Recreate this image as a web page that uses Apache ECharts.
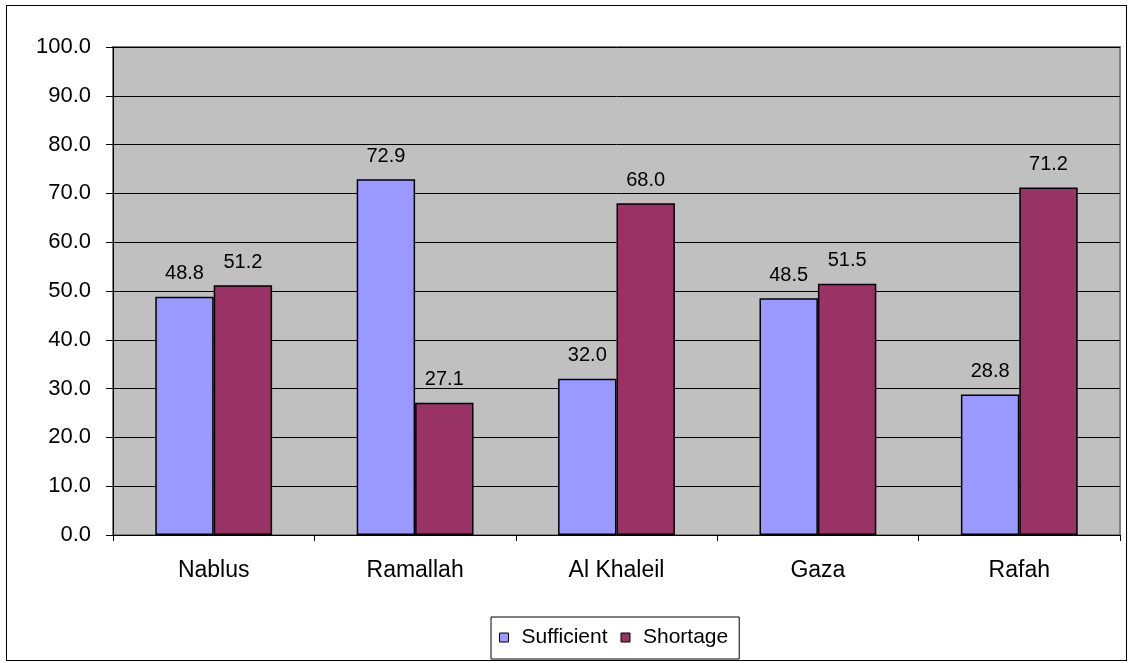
<!DOCTYPE html>
<html>
<head>
<meta charset="utf-8">
<script src="https://cdn.jsdelivr.net/npm/echarts@6/dist/echarts.min.js"></script>
<style>
  html, body { margin: 0; padding: 0; background: #ffffff; }
  #frame { position: absolute; left: 6px; top: 5px; width: 1121px; height: 656px; border: 1px solid #000; box-sizing: border-box; }
  #chart { position: absolute; left: 0; top: 0; width: 1129px; height: 663px; }
</style>
</head>
<body>
<div id="frame"></div>
<div id="chart"></div>
<script>
const categories = ['Nablus', 'Ramallah', 'Al Khaleil', 'Gaza', 'Rafah'];
const sufficient = [48.8, 72.9, 32.0, 48.5, 28.8];
const shortage = [51.2, 27.1, 68.0, 51.5, 71.2];
const seriesNames = ['Sufficient', 'Shortage'];

const chart = echarts.init(document.getElementById('chart'));
const font = 'Liberation Sans, Arial, sans-serif';

const label = {
  show: true,
  position: 'top',
  distance: 13,
  color: '#000',
  fontFamily: font,
  fontSize: 20,
  formatter: p => p.value.toFixed(1)
};

chart.setOption({
  animation: false,
  backgroundColor: 'transparent',
  grid: {
    left: 113, right: 9, top: 47, bottom: 128,
    show: true,
    backgroundColor: '#c0c0c0',
    borderColor: '#808080',
    borderWidth: 2
  },
  legend: {
    top: 617,
    left: 491,
    itemWidth: 9,
    itemHeight: 9,
    itemGap: 13,
    padding: [10, 11, 11, 8],
    borderColor: '#000',
    borderWidth: 1,
    borderRadius: 0,
    icon: 'rect',
    itemStyle: { borderColor: '#000', borderWidth: 1 },
    textStyle: { fontFamily: font, fontSize: 21, color: '#000', padding: [0, 0, 0, 8] },
    data: seriesNames
  },
  xAxis: {
    type: 'category',
    data: categories,
    axisLine: { show: true, lineStyle: { color: '#000', width: 1 } },
    axisTick: { show: true, length: 6, lineStyle: { color: '#000' } },
    axisLabel: { color: '#000', fontFamily: font, fontSize: 23, margin: 24 }
  },
  yAxis: {
    type: 'value',
    min: 0, max: 100, interval: 10,
    axisLine: { show: true, lineStyle: { color: '#000', width: 1 } },
    axisTick: { show: true, length: 7, lineStyle: { color: '#000' } },
    axisLabel: { color: '#000', fontFamily: font, fontSize: 22, margin: 22, formatter: v => v.toFixed(1) },
    splitLine: { show: true, lineStyle: { color: '#000', width: 1 } }
  },
  series: [
    {
      name: seriesNames[0], type: 'bar', data: sufficient,
      barGap: '0%', barCategoryGap: '42%',
      itemStyle: { color: '#9999ff', borderColor: '#000', borderWidth: 1.5 },
      label: label
    },
    {
      name: seriesNames[1], type: 'bar', data: shortage,
      itemStyle: { color: '#993366', borderColor: '#000', borderWidth: 1.5 },
      label: label
    }
  ]
});
</script>
</body>
</html>
